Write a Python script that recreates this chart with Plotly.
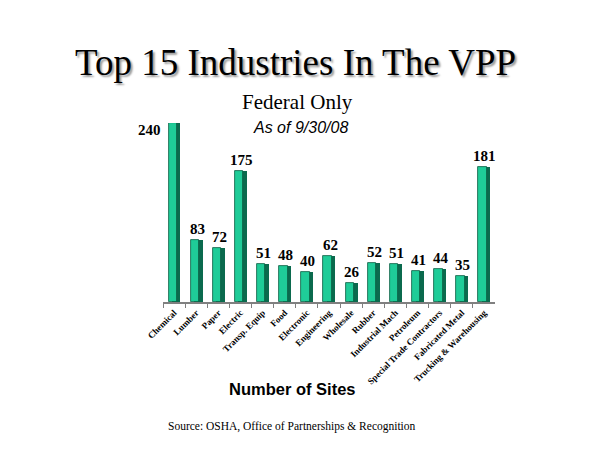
import plotly.graph_objects as go

categories = ["Chemical", "Lumber", "Paper", "Electric", "Transp. Equip", "Food",
              "Electronic", "Engineering", "Wholesale", "Rubber", "Industrial Mach",
              "Petroleum", "Special Trade Contractors", "Fabricated Metal",
              "Trucking & Warehousing"]
sites = [240, 83, 72, 175, 51, 48, 40, 62, 26, 52, 51, 41, 44, 35, 181]

W, H, M = 600, 450, 8  # figure size and browser body margin


def px(sx):
    return (sx - M) / W


def py(sy):
    return 1 - (sy - M) / H


SERIF = "Times New Roman, Liberation Serif, serif"
SANS = "Arial, Liberation Sans, sans-serif"

fig = go.Figure()
# darker side face (3D look)
fig.add_trace(go.Bar(x=categories, y=sites, width=0.38, offset=-0.09,
                     marker=dict(color="#0b6a4e", line=dict(width=0)),
                     hoverinfo="skip", showlegend=False))
# front face
fig.add_trace(go.Bar(x=categories, y=sites, width=0.38, offset=-0.25,
                     marker=dict(color="#1fcc98", line=dict(color="#0a5a40", width=0.8)),
                     showlegend=False))

for i, (c, v) in enumerate(zip(categories, sites)):
    if i == 0:
        fig.add_annotation(x=c, y=v, text="<b>%d</b>" % v, showarrow=False,
                           xanchor="right", yanchor="middle", xshift=-11, yshift=-7,
                           font=dict(family=SERIF, size=15, color="black"))
    else:
        fig.add_annotation(x=c, y=v, text="<b>%d</b>" % v, showarrow=False,
                           yanchor="bottom", xshift=1, yshift=1,
                           font=dict(family=SERIF, size=15, color="black"))

fig.update_layout(
    width=W, height=H, margin=dict(l=0, r=0, t=0, b=0),
    paper_bgcolor="white", plot_bgcolor="white", bargap=0, barmode="overlay",
    xaxis=dict(domain=[px(163), px(495)], range=[-0.5, 14.5], showgrid=False,
               showline=True, linecolor="#808080", linewidth=2,
               ticks="outside", ticklen=4, tickcolor="#808080", tickson="boundaries",
               tickangle=-45, automargin=False,
               tickfont=dict(family=SERIF, size=9, color="black", weight="bold"),
               anchor="y"),
    yaxis=dict(domain=[py(302), py(123)], range=[0, 240],
               visible=False, showgrid=False),
)

# title with a soft shadow
fig.add_annotation(text="Top 15 Industries In The VPP", x=px(295), y=py(62.5),
                   xref="paper", yref="paper", showarrow=False, yanchor="middle",
                   font=dict(family=SERIF, size=37, color="black",
                             shadow="2px 2px 2px #9a9a9a"))
fig.add_annotation(text="Federal Only", x=px(297), y=py(102),
                   xref="paper", yref="paper", showarrow=False, yanchor="middle",
                   font=dict(family=SERIF, size=21, color="black"))
fig.add_annotation(text="<i>As of 9/30/08</i>", x=px(300), y=py(127.5),
                   xref="paper", yref="paper", showarrow=False, yanchor="middle",
                   font=dict(family=SANS, size=16, color="black"))
fig.add_annotation(text="<b>Number of Sites</b>", x=px(292), y=py(389),
                   xref="paper", yref="paper", showarrow=False, yanchor="middle",
                   font=dict(family=SANS, size=16.5, color="black"))
fig.add_annotation(text="Source: OSHA, Office of Partnerships &amp; Recognition",
                   x=px(292), y=py(426.5),
                   xref="paper", yref="paper", showarrow=False, yanchor="middle",
                   font=dict(family=SERIF, size=11.5, color="black"))

fig.write_html("out.html")
